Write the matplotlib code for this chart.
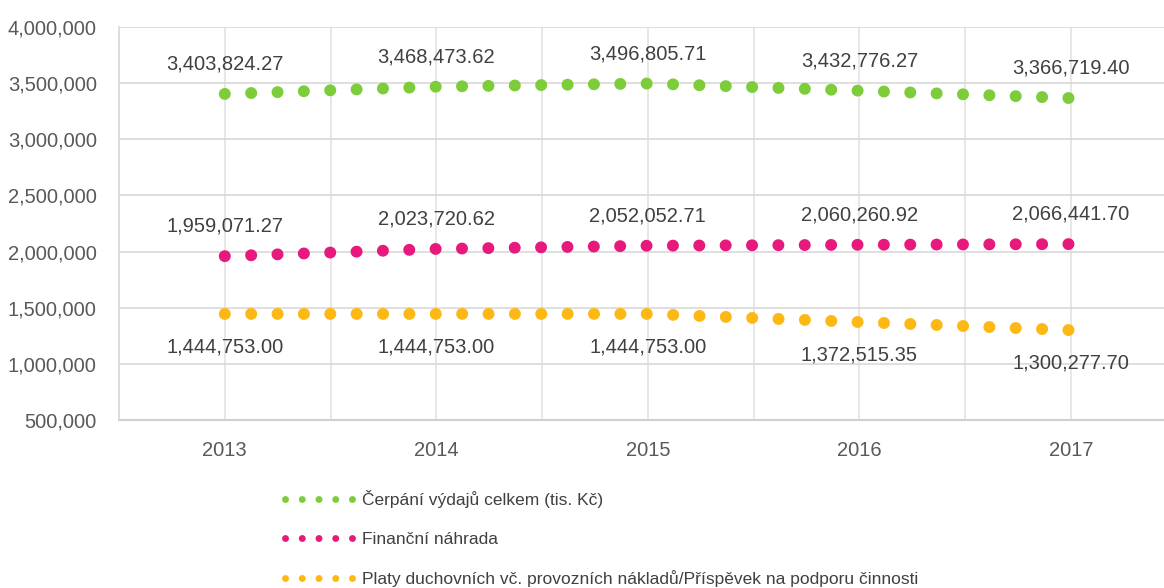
import matplotlib
matplotlib.use("Agg")
import numpy as np
import matplotlib.pyplot as plt
from matplotlib.lines import Line2D
from matplotlib.ticker import FuncFormatter

plt.rcParams['font.family'] = ['Liberation Sans', 'DejaVu Sans']

years = ["2013", "2014", "2015", "2016", "2017"]
cerpani = [3403824.27, 3468473.62, 3496805.71, 3432776.27, 3366719.40]
nahrada = [1959071.27, 2023720.62, 2052052.71, 2060260.92, 2066441.70]
platy = [1444753.00, 1444753.00, 1444753.00, 1372515.35, 1300277.70]
names = ["Čerpání výdajů celkem (tis. Kč)",
         "Finanční náhrada",
         "Platy duchovních vč. provozních nákladů/Příspěvek na podporu činnosti"]
colors = ["#7DCC3A", "#E8197C", "#FDB813"]

fig = plt.figure(figsize=(11.64, 5.88), dpi=100)
ax = fig.add_axes([0.1022, 0.2857, 0.8978, 0.6684])

x = list(range(len(years)))
ax.set_yticks(range(500000, 4000001, 500000))
ax.yaxis.set_major_formatter(FuncFormatter(lambda v, p: f"{v:,.0f}"))
ax.set_xticks(x)
ax.set_xticklabels(years)
ax.set_xticks([i * 0.5 for i in range(-1, 9)], minor=True)
ax.xaxis.remove_overlapping_locs = False
ax.set_xlim(-0.5, 4.44)
ax.set_ylim(500000, 4000000)

series = [cerpani, nahrada, platy]
offsets = [21.5, 21.5, -24]
lw = 8.6
for vals, col, off in zip(series, colors, offsets):
    # pick the dot gap so that a dot lands on the first and last year
    pts = ax.transData.transform(np.column_stack([x, vals]))
    length = np.hypot(*np.diff(pts, axis=0).T).sum()
    n = round(length / 26.4)
    gap = (length / n) * 0.997 * 72 / fig.dpi / lw - 0.01
    ax.plot(x, vals, color=col, lw=lw, linestyle=(0, (0.01, gap)),
            dash_capstyle='round')
    for xi, v in zip(x, vals):
        ax.annotate(f"{v:,.2f}", (xi, v), xytext=(0, off), textcoords='offset points',
                    ha='center', va='center', fontsize=14.5, color='#404040')

ax.tick_params(axis='both', which='both', length=0, labelsize=14.5, colors='#595959')
ax.tick_params(axis='x', pad=15)
ax.tick_params(axis='y', pad=16)
ax.grid(True, axis='y', color='#d9d9d9', lw=1.2)
ax.grid(True, axis='x', which='minor', color='#e3e3e3', lw=1.2)
ax.grid(False, axis='x', which='major')
ax.set_axisbelow(True)
for s in ['top', 'right']:
    ax.spines[s].set_visible(False)
ax.spines['left'].set_color('#d9d9d9')
ax.spines['bottom'].set_color('#d0d0d0')
ax.spines['left'].set_linewidth(1.2)
ax.spines['bottom'].set_linewidth(1.5)

handles = [Line2D([0], [0], color=c, lw=5, linestyle=(0, (0.01, 2.4)),
                  dash_capstyle='round') for c in colors]
fig.legend(handles, names, loc='upper left', bbox_to_anchor=(0.2448, 0.166),
           frameon=False, fontsize=12.5, labelcolor='#404040', handlelength=3.87,
           handletextpad=0.55, labelspacing=1.35, borderpad=0, borderaxespad=0)

fig.savefig("out.png", dpi=100)
